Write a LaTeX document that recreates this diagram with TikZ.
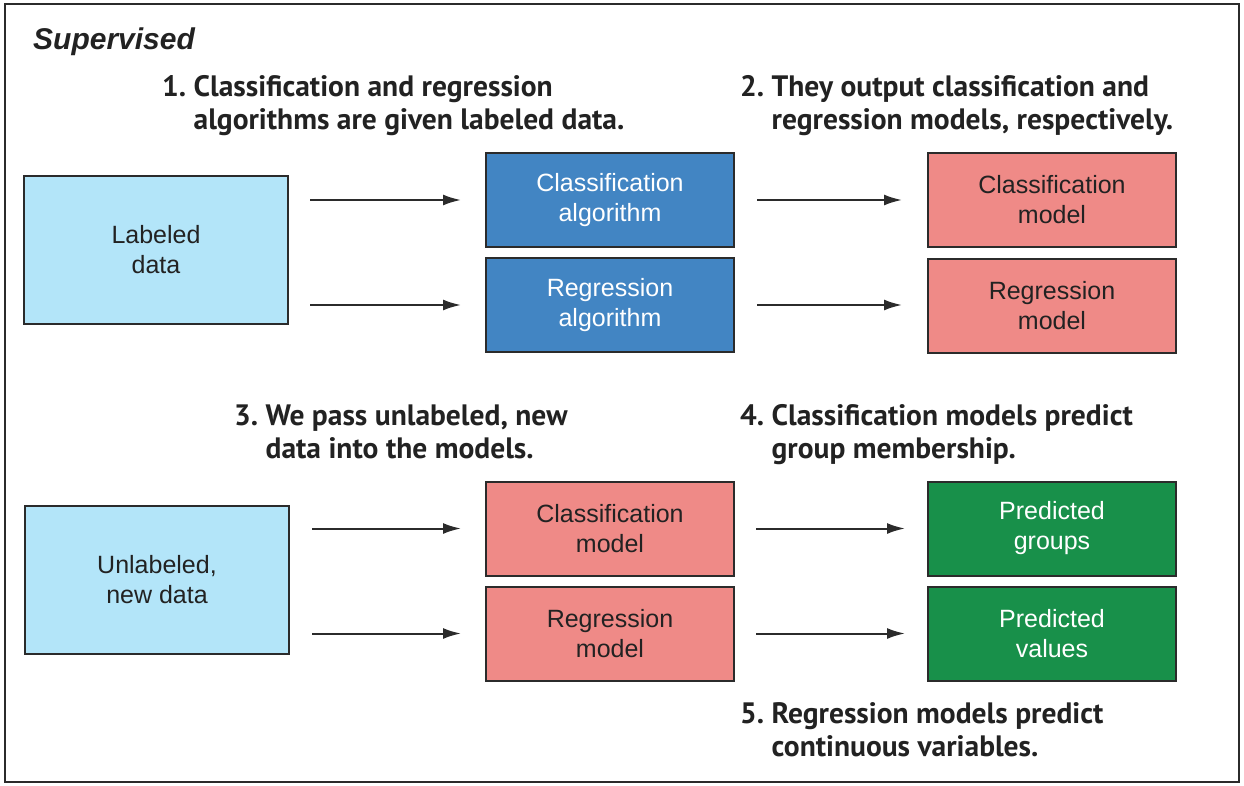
\documentclass[tikz,border=0pt]{standalone}
\usepackage{fontspec}
\setmainfont{Liberation Sans}
\newfontfamily\labfont{PT Sans}
\usetikzlibrary{arrows.meta}
\definecolor{lblue}{HTML}{B3E5F9}
\definecolor{mblue}{HTML}{4285C3}
\definecolor{salmon}{HTML}{EF8A87}
\definecolor{dgreen}{HTML}{18904A}
\definecolor{edge}{HTML}{2B2B2B}
\definecolor{txt}{HTML}{222222}
\begin{document}
\begin{tikzpicture}[x=1pt,y=-1pt,
  box/.style={draw=edge, line width=2pt, minimum width=248pt, minimum height=94pt,
    inner sep=0pt, align=center, font=\fontsize{25}{30}\selectfont, text=txt},
  bigbox/.style={box, minimum width=264pt, minimum height=148pt},
  wtext/.style={text=white},
  lab/.style={anchor=base west, inner sep=0pt, text=txt,
    font=\labfont\bfseries\fontsize{29.5}{33}\selectfont},
  arr/.style={draw=edge, line width=2pt, -{Latex[length=18pt,width=11pt]}}
]
\useasboundingbox (0,0) rectangle (1244,786);
\draw[edge, line width=2pt] (5,4) rectangle (1239,782);
\node[anchor=base west, inner sep=0pt, text=txt, font=\bfseries\itshape\fontsize{30}{34}\selectfont] (sup) at (33,50) {Supervised};

\node[lab] (l1) at (162,97) {1.\ \begin{tabular}[t]{@{}l@{}}Classification and regression\\[0pt]algorithms are given labeled data.\end{tabular}};
\node[lab] (l2) at (740,97) {2.\ \begin{tabular}[t]{@{}l@{}}They output classification and\\[0pt]regression models, respectively.\end{tabular}};
\node[lab] (l3) at (234,425) {3.\ \begin{tabular}[t]{@{}l@{}}We pass unlabeled, new\\[0pt]data into the models.\end{tabular}};
\node[lab] (l4) at (740,425) {4.\ \begin{tabular}[t]{@{}l@{}}Classification models predict\\[0pt]group membership.\end{tabular}};
\node[lab] (l5) at (740,723) {5.\ \begin{tabular}[t]{@{}l@{}}Regression models predict\\[0pt]continuous variables.\end{tabular}};

\node[bigbox, fill=lblue] (ld) at (156,250) {Labeled\\data};
\node[box, fill=mblue, wtext] (ca) at (610,200) {Classification\\algorithm};
\node[box, fill=mblue, wtext] (ra) at (610,305) {Regression\\algorithm};
\node[box, fill=salmon] (cm1) at (1052,200) {Classification\\model};
\node[box, fill=salmon] (rm1) at (1052,306) {Regression\\model};

\node[bigbox, fill=lblue] (ud) at (157,580) {Unlabeled,\\new data};
\node[box, fill=salmon] (cm2) at (610,528.5) {Classification\\model};
\node[box, fill=salmon] (rm2) at (610,633.5) {Regression\\model};
\node[box, fill=dgreen, wtext] (pg) at (1052,528.5) {Predicted\\groups};
\node[box, fill=dgreen, wtext] (pv) at (1052,633.5) {Predicted\\values};

\draw[arr, shorten <=21pt, shorten >=24pt] (ld.east |- ca.west) -- (ca.west);
\draw[arr, shorten <=21pt, shorten >=24pt] (ld.east |- ra.west) -- (ra.west);
\draw[arr, shorten <=22pt, shorten >=25pt] (ca.east) -- (cm1.west);
\draw[arr, shorten <=22pt, shorten >=25pt] (ra.east) -- (ra.east -| rm1.west);
\draw[arr, shorten <=22pt, shorten >=24pt] (ud.east |- cm2.west) -- (cm2.west);
\draw[arr, shorten <=22pt, shorten >=24pt] (ud.east |- rm2.west) -- (rm2.west);
\draw[arr, shorten <=21pt, shorten >=22pt] (cm2.east) -- (pg.west);
\draw[arr, shorten <=21pt, shorten >=22pt] (rm2.east) -- (pv.west);
\end{tikzpicture}
\end{document}
